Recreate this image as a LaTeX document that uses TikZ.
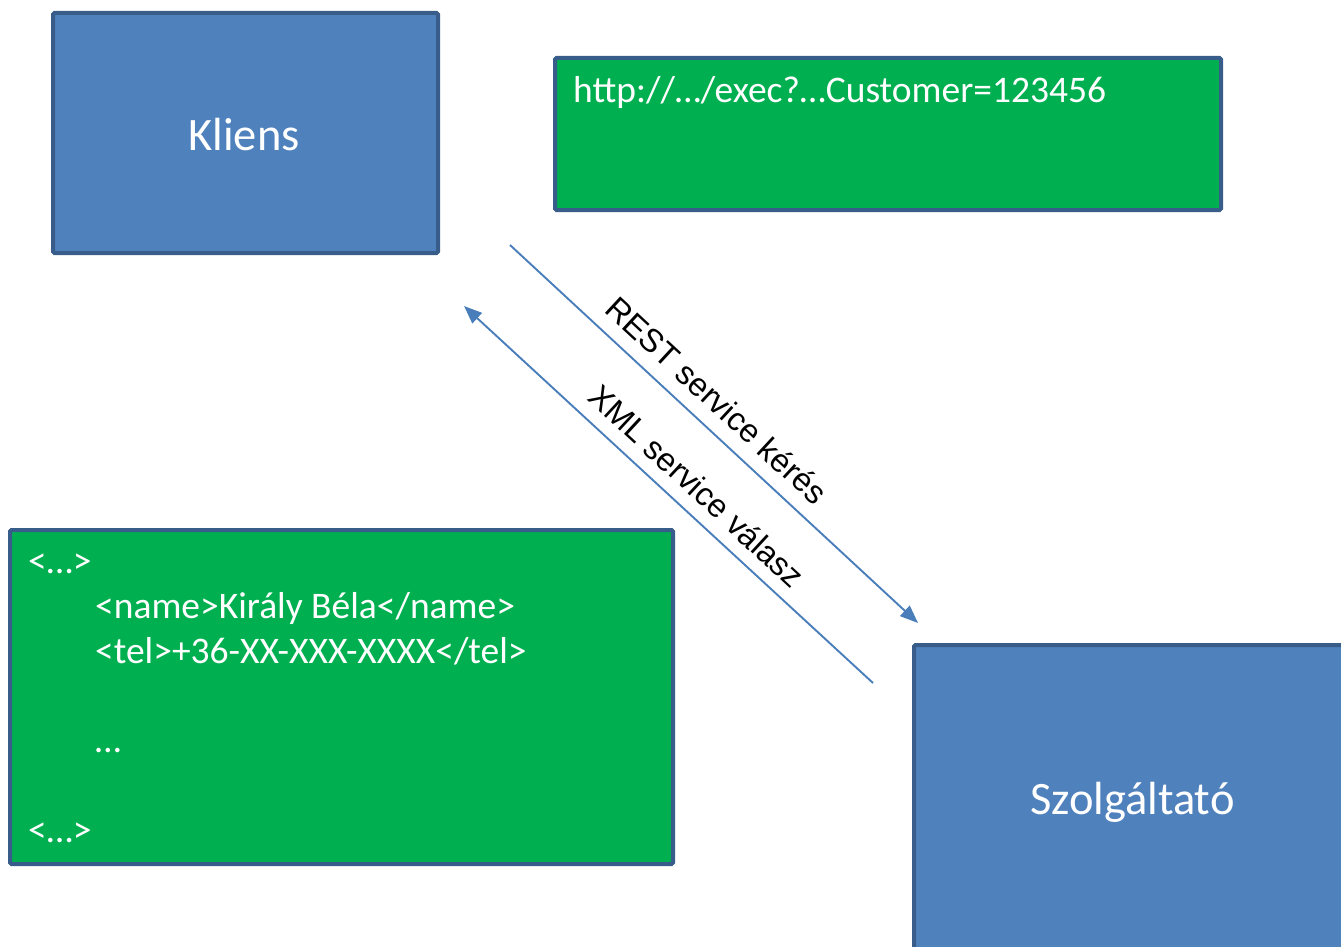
\documentclass[tikz,border=0pt]{standalone}
\usepackage{fontspec}
\setmainfont{Carlito}
\newfontfamily\arialfont{Liberation Sans}
\usetikzlibrary{arrows.meta}
\definecolor{boxblue}{HTML}{4F81BD}
\definecolor{boxedge}{HTML}{385D8A}
\definecolor{boxgreen}{HTML}{00B050}
\definecolor{arrowblue}{HTML}{4A7EBB}
\tikzset{
  bluebox/.style={draw=boxedge, fill=boxblue, line width=4pt, rounded corners=1.5pt, inner sep=0pt},
  greenbox/.style={draw=boxedge, fill=boxgreen, line width=4pt, rounded corners=1.5pt, inner sep=0pt},
  bigtxt/.style={text=white, font=\fontsize{46.5}{54}\selectfont, anchor=base, inner sep=0pt},
  smalltxt/.style={text=white, font=\fontsize{37.5}{45}\selectfont, anchor=base west, inner sep=0pt},
  flow/.style={draw=arrowblue, line width=1.9pt, -{Triangle[length=18pt,width=14pt]}},
  flowlabel/.style={font=\arialfont\fontsize{32.5}{38}\selectfont, text=black, inner sep=0pt, rotate=-42.8}
}
\begin{document}
\begin{tikzpicture}[x=1pt,y=-1pt]
\clip (0,0) rectangle (1341,947);
\useasboundingbox (0,0) rectangle (1341,947);
% boxes
\node[bluebox, minimum width=385pt, minimum height=240pt] (kliens) at (245.5,133) {};
\node[bigtxt] (klienstxt) at (244,150) {Kliens};
\node[greenbox, minimum width=666pt, minimum height=152pt] (req) at (888,134) {};
\node[smalltxt] (reqtxt) at (573,103) {http://…/exec?…Customer=123456};
\node[greenbox, minimum width=663pt, minimum height=334pt] (resp) at (341.5,697) {};
\node[smalltxt] (l1) at (28,573) {<…>};
\node[smalltxt] (l2) at (95,618) {<name>Király Béla</name>};
\node[smalltxt] (l3) at (95,663) {<tel>+36-XX-XXX-XXXX</tel>};
\node[smalltxt] (l4) at (95,752) {…};
\node[smalltxt] (l5) at (28,842) {<…>};
\node[bluebox, minimum width=437pt, minimum height=307pt] (szolg) at (1132.5,798.5) {};
\node[bigtxt] (szolgtxt) at (1132.5,814) {Szolgáltató};
% arrows
\coordinate (r1) at (510,245);
\coordinate (r2) at (918,623);
\coordinate (x1) at (873,683);
\coordinate (x2) at (464,306);
\draw[flow] (r1) -- (r2);
\draw[flow] (x1) -- (x2);
\node[flowlabel] (restlbl) at (717,400) {REST service kérés};
\node[flowlabel] (xmllbl) at (697,486) {XML service válasz};
\end{tikzpicture}
\end{document}
